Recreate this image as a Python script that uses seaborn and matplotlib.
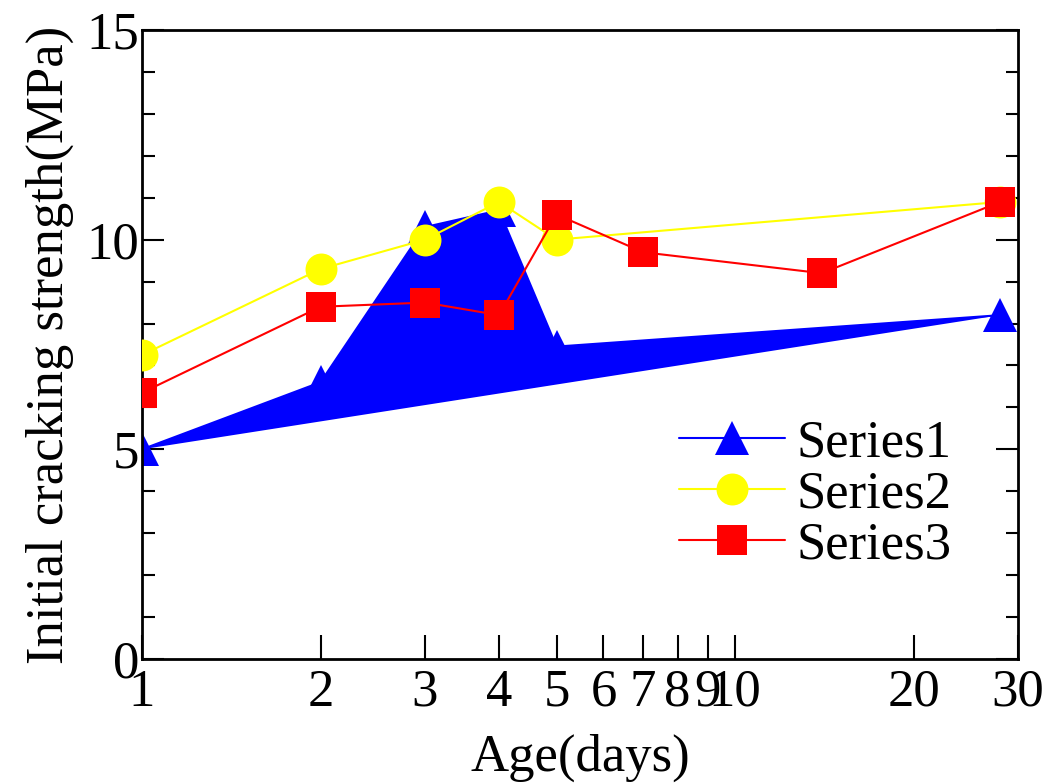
import matplotlib
matplotlib.use("Agg")
import matplotlib.pyplot as plt
import seaborn as sns
import pandas as pd
import numpy as np
from matplotlib.ticker import FixedLocator, MultipleLocator, NullFormatter

# Data
age_12 = [1, 2, 3, 4, 5, 28]
series1 = [5.0, 6.6, 10.3, 10.7, 7.45, 8.2]
series2 = [7.25, 9.3, 10.0, 10.9, 10.0, 10.9]
age_3 = [1, 2, 3, 4, 5, 7, 14, 28]
series3 = [6.35, 8.4, 8.5, 8.2, 10.6, 9.7, 9.2, 10.9]
xtick_vals = [1, 2, 3, 4, 5, 6, 7, 8, 9, 10, 20, 30]
xtick_labels = ["1", "2", "3", "4", "5", "6", "7", "8", "9", "10", "20", "30"]

sns.set_theme(style="white")
plt.rcParams['font.family'] = ['Liberation Serif', 'DejaVu Serif']
plt.rcParams['text.color'] = 'black'
plt.rcParams['axes.labelcolor'] = 'black'
plt.rcParams['xtick.color'] = 'black'
plt.rcParams['ytick.color'] = 'black'

fig = plt.figure(figsize=(10.49, 7.83), dpi=100)
ax = fig.add_axes([142/1049, 1-659/783, (1018-142)/1049, (659-30)/783])

df1 = pd.DataFrame({"Age": age_12, "v": series1})
df2 = pd.DataFrame({"Age": age_12, "v": series2})
df3 = pd.DataFrame({"Age": age_3, "v": series3})

# blue filled region (series1 polygon)
ax.fill(df1["Age"], df1["v"], color="#0000ff", lw=0, zorder=1)

sns.lineplot(data=df1, x="Age", y="v", ax=ax, color="#0000ff", lw=1.5,
             marker="^", markersize=25, markeredgewidth=0, label="Series1", zorder=2)
sns.lineplot(data=df2, x="Age", y="v", ax=ax, color="#ffff00", lw=1.5,
             marker="o", markersize=23, markeredgewidth=0, label="Series2", zorder=3)
sns.lineplot(data=df3, x="Age", y="v", ax=ax, color="#ff0000", lw=1.5,
             marker="s", markersize=22, markeredgewidth=0, label="Series3", zorder=4)

ax.set_xscale("log")
ax.set_xlim(1, 30)
ax.set_ylim(0, 15)
ax.set_xticks(xtick_vals)
ax.set_xticklabels(xtick_labels)
ax.xaxis.set_minor_formatter(NullFormatter())
ax.xaxis.set_minor_locator(FixedLocator([]))
ax.yaxis.set_major_locator(MultipleLocator(5))
ax.yaxis.set_minor_locator(MultipleLocator(1))

fs = 38
ax.tick_params(axis="x", which="major", direction="in", length=17, width=1.5,
               labelsize=fs, pad=7, top=False, bottom=True, colors="black")
ax.tick_params(axis="y", which="major", direction="in", length=16, width=1.5,
               labelsize=fs, pad=2, left=True, right=True, colors="black")
ax.tick_params(axis="y", which="minor", direction="in", length=9, width=1.5,
               left=True, right=True, colors="black")
for s in ax.spines.values():
    s.set_linewidth(2)
    s.set_color("black")
    s.set_visible(True)

ax.set_xlabel("Age(days)", fontsize=fs, labelpad=12, color="black")
ax.set_ylabel("Initial cracking strength(MPa)", fontsize=fs, labelpad=9, color="black")

leg = ax.legend(loc="upper left", bbox_to_anchor=(0.589, 0.415), frameon=False,
                fontsize=fs, handlelength=2.0, labelspacing=0.06,
                handletextpad=0.22, borderaxespad=0)
for t in leg.get_texts():
    t.set_color("black")

fig.savefig("out.png", dpi=100)
